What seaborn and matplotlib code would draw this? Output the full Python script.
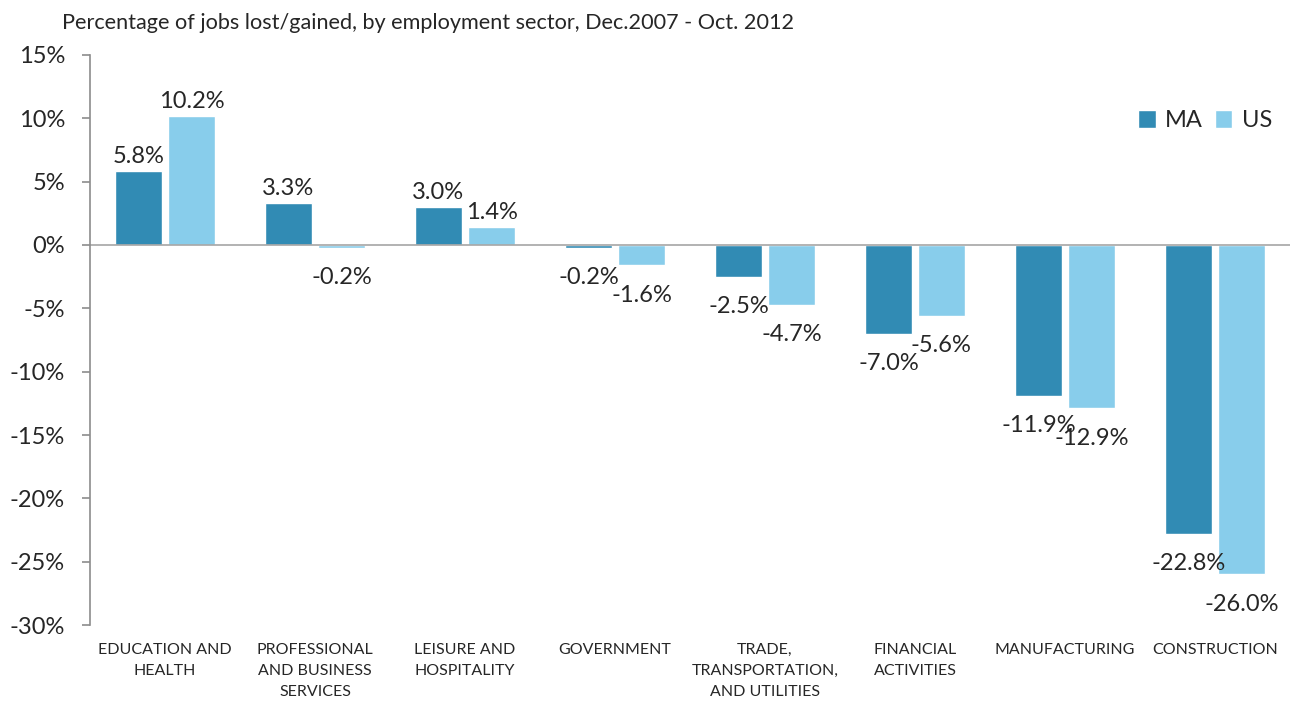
import matplotlib
matplotlib.use("Agg")
import matplotlib.pyplot as plt
import seaborn as sns
import pandas as pd
from matplotlib.ticker import FuncFormatter

sectors = ["EDUCATION AND\nHEALTH", "PROFESSIONAL\nAND BUSINESS\nSERVICES",
           "LEISURE AND\nHOSPITALITY", "GOVERNMENT", "TRADE,\nTRANSPORTATION,\nAND UTILITIES",
           "FINANCIAL\nACTIVITIES", "MANUFACTURING", "CONSTRUCTION"]
ma = [5.8, 3.3, 3.0, -0.2, -2.5, -7.0, -11.9, -22.8]
us = [10.2, -0.2, 1.4, -1.6, -4.7, -5.6, -12.9, -26.0]

df = pd.DataFrame({
    "sector": sectors * 2,
    "value": ma + us,
    "region": ["MA"] * len(ma) + ["US"] * len(us),
})

sns.set_style("white")
plt.rcParams["font.family"] = ["Lato", "DejaVu Sans"]

fig = plt.figure(figsize=(12.93, 7.04), dpi=100)
ax = fig.add_axes([0.0696, 0.112, 0.928, 0.81])

sns.barplot(data=df, x="sector", y="value", hue="region",
            palette={"MA": "#318BB4", "US": "#88CDEB"},
            width=0.707, gap=0.113, ax=ax, saturation=1)

# positive labels sit closer to the bar than the negative ones (like excel)
for cont in ax.containers:
    vals = cont.datavalues
    ax.bar_label(cont, labels=[f"{v:.1f}%" if v >= 0 else "" for v in vals], fontsize=17, padding=3)
    ax.bar_label(cont, labels=[f"{v:.1f}%" if v < 0 else "" for v in vals], fontsize=17, padding=14)

ax.set_ylim(-30, 15)
ax.set_yticks(range(-30, 16, 5))
ax.yaxis.set_major_formatter(FuncFormatter(lambda v, p: f"{int(v)}%"))
ax.axhline(0, color="#A6A6A6", lw=1.2)
ax.set_xlim(-0.5, 7.5)

for s in ["top", "right", "bottom"]:
    ax.spines[s].set_visible(False)
ax.spines["left"].set_color("#8C8C8C")
ax.spines["left"].set_linewidth(1.2)
ax.tick_params(axis="y", left=True, length=6, width=1.2, color="#8C8C8C", labelsize=17, pad=12)
ax.tick_params(axis="x", bottom=False, labelsize=11.5, pad=9)
for t in ax.get_xticklabels():
    t.set_linespacing(1.65)
ax.set_xlabel("")
ax.set_ylabel("")

ax.legend(loc="upper right", bbox_to_anchor=(1.003, 0.94), ncol=2, frameon=False,
          fontsize=17, handlelength=0.75, handleheight=0.75, columnspacing=0.5, handletextpad=0.4)

fig.text(0.048, 0.968, "Percentage of jobs lost/gained, by employment sector, Dec.2007 - Oct. 2012",
         fontsize=15.6, ha="left", va="center")

fig.savefig("out.png", dpi=100)
